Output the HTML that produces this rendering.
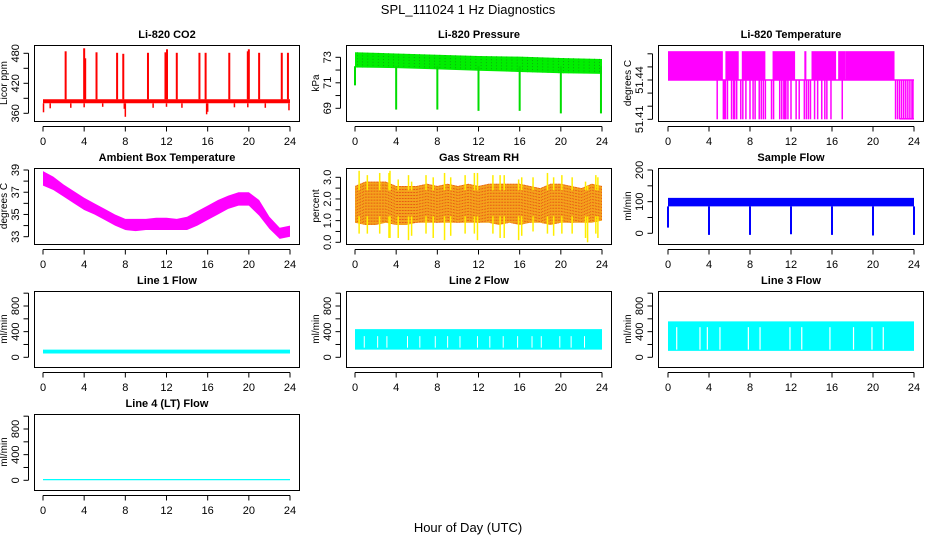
<!DOCTYPE html>
<html><head><meta charset="utf-8"><style>
html,body{margin:0;padding:0;background:#fff}
svg{display:block;font-family:"Liberation Sans",Arial,sans-serif}
</style></head><body>
<svg id="chart" width="936" height="540" viewBox="0 0 936 540">
<text x="468" y="14" text-anchor="middle" font-size="13">SPL_111024  1 Hz Diagnostics</text>
<text x="468" y="532" text-anchor="middle" font-size="13">Hour of Day (UTC)</text>
</svg>
<script>
// ---------- data ----------
const xTicks=[0,4,8,12,16,20,24];
const hours=[0,1,2,3,4,5,6,7,8,9,10,11,12,13,14,15,16,17,18,19,20,21,22,23,24];
// CO2
const co2Lo=380, co2Hi=388;
const co2UpHours=[2.2,4.0,4.1,5.2,7.2,7.8,10.2,11.9,12.05,13.0,15.2,15.8,18.1,19.9,20.0,21.0,23.2,23.8];
const co2UpVals=[484,490,470,482,481,479,481,482,488,481,481,481,481,484,488,481,481,481];
const co2DnHours=[0.05,0.7,2.7,4.0,5.8,7.9,8.0,10.7,12.0,13.5,15.9,16.0,18.6,19.9,21.6,23.9];
const co2DnVals=[362,370,371,372,373,369,353,371,373,371,358,363,372,372,371,366];
// Pressure
const presHours=[0,4,8,12,16,20,24];
const presHi=[73.4,73.3,73.2,73.1,73.05,72.95,72.87];
const presLo=[72.2,72.15,72.05,71.95,71.85,71.75,71.7];
const presDropHours=[0,4,8,12,16,20,23.9];
const presDropVals=[70.8,68.9,68.9,68.8,68.8,68.6,68.6];
// Li-820 temperature
const tempBase=51.44, tempTop=51.462, tempLow=51.41;
const tempTopStart=[0,5.6,7.2,10.2,13.3,14.0,16.6,17.3];
const tempTopEnd=[5.35,6.9,9.5,12.4,13.5,16.4,17.3,22.1];
const tempDropHours=[4.8,5.4,5.5,5.6,5.8,6.2,6.4,6.5,6.7,7.1,7.3,7.6,8.0,8.3,8.5,8.9,9.1,9.3,9.5,10.1,10.3,10.9,11.1,11.3,11.4,11.5,11.7,12.0,12.5,12.8,13.3,13.5,13.7,13.9,14.3,14.6,15.0,15.3,15.5,15.9,17.0,22.2,22.4,22.6,22.8,23.0,23.2,23.4,23.6,23.8,23.9];
// Ambient box temperature
const ambLo=[37.6,37.2,36.6,36.0,35.4,35.0,34.5,34.0,33.6,33.5,33.6,33.6,33.6,33.6,33.6,34.0,34.5,35.0,35.5,35.8,35.8,34.9,33.7,32.8,33.0];
const ambHi=[38.9,38.4,37.7,37.1,36.5,36.0,35.5,35.0,34.6,34.6,34.6,34.7,34.7,34.6,34.8,35.3,35.8,36.3,36.7,37.0,37.0,36.3,34.8,33.8,34.0];
// RH
const rhLo=[0.9,0.8,0.8,0.9,0.8,0.8,0.9,0.9,0.9,0.9,0.9,0.9,0.9,0.9,0.8,0.9,0.8,0.9,0.9,0.8,0.9,0.9,0.9,0.9,1.0];
const rhHi=[2.6,2.8,2.8,2.8,2.6,2.6,2.6,2.7,2.6,2.7,2.6,2.7,2.6,2.7,2.7,2.7,2.7,2.6,2.5,2.7,2.7,2.6,2.5,2.7,2.6];
const rhSpikeHours=[0.4,1.2,2.4,3.3,3.4,4.2,5.2,5.5,6.9,7.6,8.7,9.3,10.7,11.6,11.9,13.4,14.1,14.5,15.9,16.2,17.3,18.7,19.3,20.1,21.1,22.4,22.6,23.4,23.6];
const rhSpikeHi=[3.3,3.1,3.2,3.2,3.3,2.9,3.1,2.8,3.1,3.0,3.2,3.0,3.1,3.2,3.2,3.1,3.1,3.1,2.9,3.0,3.0,3.2,3.0,3.1,3.0,2.8,2.6,3.1,3.0];
const rhSpikeLo=[0.4,0.4,0.4,0.2,0.2,0.2,0.1,0.3,0.4,0.2,0.1,0.3,0.4,0.4,0.1,0.4,0.2,0.2,0.1,0.3,0.5,0.4,0.3,0.4,0.4,0.2,0.0,0.4,0.2];
// Sample flow
const sfLo=85, sfHi=112;
const sfDropHours=[0,4,8,12,16,20,24];
const sfDropVals=[18,-5,-5,-3,-5,-7,-5];
// Line flows
const l1Lo=60, l1Hi=120;
const l2Lo=120, l2Hi=440;
const l3Lo=100, l3Hi=560;
const l4Lo=0, l4Hi=20;
const l2GapHours=[0.9,2.2,3.1,5.1,6.3,7.8,9.0,10.2,11.9,13.1,14.4,15.8,17.2,18.1,19.9,21.0,22.3];
const l3GapHours=[0.85,3.12,3.84,5.07,7.84,8.98,11.9,13.05,15.8,18.1,19.9,21.0];

// ---------- layout ----------
const NS="http://www.w3.org/2000/svg";
const svg=document.getElementById('chart');
function mk(tag,attrs,parent){const e=document.createElementNS(NS,tag);for(const k in attrs)e.setAttribute(k,attrs[k]);(parent||svg).appendChild(e);return e;}
function interp(hs,vs,h){for(let i=0;i<hs.length-1;i++){if(h<=hs[i+1]){const t=(h-hs[i])/(hs[i+1]-hs[i]);return vs[i]+t*(vs[i+1]-vs[i]);}}return vs[vs.length-1];}
const colBoxL=[34,346,658], colBoxR=[300,612,924], colX0=[43,355,668], colX24=[290,602,914];
const rowTop=[45,168,291,414], boxH=76;

function panel(row,col,title,ylab,ticks,labels,v1,y1,v2,y2,name){
  const top=rowTop[row], bot=top+boxH, L=colBoxL[col], R=colBoxR[col];
  const g=mk('g',{});
  
  
  const P={g,top,bot,L,R,
    x:h=>colX0[col]+(colX24[col]-colX0[col])*h/24,
    y:v=>top+y1+(v-v1)*(y2-y1)/(v2-v1)};
  const cid='clip'+row+col;
  const cp=mk('clipPath',{id:cid},g);mk('rect',{x:L,y:top,width:R-L,height:boxH},cp);
  P.d=mk('g',{'clip-path':'url(#'+cid+')'},g);
  
  
  const box=mk('rect',{x:L+0.5,y:top+0.5,width:R-L-1,height:boxH,fill:'none',stroke:'#000','stroke-width':1},g);
  
  
  const t=mk('text',{x:(L+R)/2,y:top-7,'text-anchor':'middle','font-size':11,'font-weight':'bold'},g);
  t.textContent=title;
  
  
  const xa=mk('g',{},g);
  
  
  const ay=bot+0.5;
  mk('line',{x1:P.x(0),x2:P.x(24),y1:ay+5,y2:ay+5,stroke:'#000'},xa);
  xTicks.forEach(h=>{
    mk('line',{x1:P.x(h),x2:P.x(h),y1:ay+5,y2:ay+10,stroke:'#000'},xa);
    const tx=mk('text',{x:P.x(h),y:bot+24,'text-anchor':'middle','font-size':11},xa);tx.textContent=h;
  });
  const ya=mk('g',{},g);
  
  
  const ax=L-5.5;
  mk('line',{x1:ax,x2:ax,y1:P.y(ticks[0]),y2:P.y(ticks[ticks.length-1]),stroke:'#000'},ya);
  ticks.forEach((v,i)=>{
    mk('line',{x1:ax-5,x2:ax,y1:P.y(v),y2:P.y(v),stroke:'#000'},ya);
    if(labels[i]){const tx=mk('text',{x:0,y:0,'text-anchor':'middle','font-size':11,transform:'translate('+(L-15)+','+P.y(v)+') rotate(-90)'},ya);tx.textContent=labels[i];}
  });
  const yl=mk('text',{x:0,y:0,'text-anchor':'middle','font-size':10,transform:'translate('+(L-27)+','+(top+boxH/2)+') rotate(-90)'},g);
  yl.textContent=ylab;
  
  
  return P;
}
function band(P,hs,lo,hi,fill){
  let d='M'+hs.map((h,i)=>P.x(h)+','+P.y(hi[i])).join('L');
  for(let i=hs.length-1;i>=0;i--)d+='L'+P.x(hs[i])+','+P.y(lo[i]);
  return mk('path',{d:d+'Z',fill:fill},P.d);
}
function vline(P,h,a,b,color,w){return mk('line',{x1:P.x(h),x2:P.x(h),y1:P.y(a),y2:P.y(b),stroke:color,'stroke-width':w||1.5},P.d);}

// CO2
let P=panel(0,0,'Li-820 CO2','Licor ppm',[360,390,420,450,480],['360','','420','','480'],360,68.3,480,8.3,'co2');
band(P,[0,24],[co2Lo,co2Lo],[co2Hi,co2Hi],'#ff0000');
co2UpHours.forEach((h,i)=>vline(P,h,co2Hi,co2UpVals[i],'#ff0000',2));
co2DnHours.forEach((h,i)=>vline(P,h,co2Lo,co2DnVals[i],'#ff0000',1.5));
// Pressure
P=panel(0,1,'Li-820 Pressure','kPa',[69,70,71,72,73],['69','','71','','73'],73,12.3,69,63.3,'pressure');
band(P,presHours,presLo,presHi,'#00ee00');
for(let h=0.25;h<24;h+=0.5){mk('line',{x1:P.x(h),x2:P.x(h),y1:P.y(interp(presHours,presHi,h)),y2:P.y(interp(presHours,presLo,h)),stroke:'#1a6a1a','stroke-width':0.5,'stroke-dasharray':'1 2'},P.d);}
presDropHours.forEach((h,i)=>vline(P,h,72.3,presDropVals[i],'#00dd00',2));
// Li-820 Temp
P=panel(0,2,'Li-820 Temperature','degrees C',[51.41,51.42,51.43,51.44,51.45,51.46],['51.41','','','51.44','',''],51.44,35,51.41,74.3,'li820-temp');
tempTopStart.forEach((s,i)=>{mk('rect',{x:P.x(s),y:P.y(tempTop),width:P.x(tempTopEnd[i])-P.x(s),height:P.y(tempBase)-P.y(tempTop),fill:'#ff00ff'},P.d);});
mk('line',{x1:P.x(0),x2:P.x(24),y1:P.y(tempBase),y2:P.y(tempBase),stroke:'#ff00ff','stroke-width':1.5},P.d);
tempDropHours.forEach(h=>vline(P,h,tempBase,tempLow,'#ff00ff',1.5));
mk('line',{x1:P.x(22.6),x2:P.x(24),y1:P.y(tempLow)-0.5,y2:P.y(tempLow)-0.5,stroke:'#ff00ff','stroke-width':1.5},P.d);
// Ambient
P=panel(1,0,'Ambient Box Temperature','degrees C',[33,34,35,36,37,38,39],['33','','35','','37','','39'],39,2,33,68.7,'ambient-temp');
band(P,hours,ambLo,ambHi,'#ff00ff');
// RH
P=panel(1,1,'Gas Stream RH','percent',[0,0.5,1,1.5,2,2.5,3],['0.0','','1.0','','2.0','','3.0'],3,9.3,0,74.3,'gas-rh');
band(P,hours,rhLo,rhHi,'#f4a21c');
for(let h=0.1;h<24;h+=0.15){mk('line',{x1:P.x(h),x2:P.x(h),y1:P.y(interp(hours,rhHi,h)),y2:P.y(interp(hours,rhLo,h)),stroke:'#e03010','stroke-width':0.6,'stroke-dasharray':'1 2'},P.d);}
rhSpikeHours.forEach((h,i)=>{vline(P,h,2.4,rhSpikeHi[i],'#ffee00',1.5);vline(P,h,1.2,rhSpikeLo[i],'#ffee00',1.5);});
// Sample flow
P=panel(1,2,'Sample Flow','ml/min',[0,50,100,150,200],['0','','100','','200'],200,2,0,65.3,'sample-flow');
band(P,[0,24],[sfLo,sfLo],[sfHi,sfHi],'#0000ff');
sfDropHours.forEach((h,i)=>vline(P,h,sfLo,sfDropVals[i],'#0000ff',2));
// Line flows
const ft=[0,200,400,600,800,1000], fl=['0','','400','','800',''];
P=panel(2,0,'Line 1 Flow','ml/min',ft,fl,800,15,0,66.3,'line1-flow');
band(P,[0,24],[l1Lo,l1Lo],[l1Hi,l1Hi],'#00ffff');
P=panel(2,1,'Line 2 Flow','ml/min',ft,fl,800,15,0,66.3,'line2-flow');
band(P,[0,24],[l2Lo,l2Lo],[l2Hi,l2Hi],'#00ffff');
l2GapHours.forEach(h=>vline(P,h,150,330,'#ffffff',1));
P=panel(2,2,'Line 3 Flow','ml/min',ft,fl,800,15,0,66.3,'line3-flow');
band(P,[0,24],[l3Lo,l3Lo],[l3Hi,l3Hi],'#00ffff');
l3GapHours.forEach(h=>vline(P,h,120,470,'#ffffff',1.2));
P=panel(3,0,'Line 4 (LT) Flow','ml/min',ft,fl,800,15,0,66.3,'line4-flow');
band(P,[0,24],[l4Lo,l4Lo],[l4Hi,l4Hi],'#00ffff');
</script>
</body></html>
